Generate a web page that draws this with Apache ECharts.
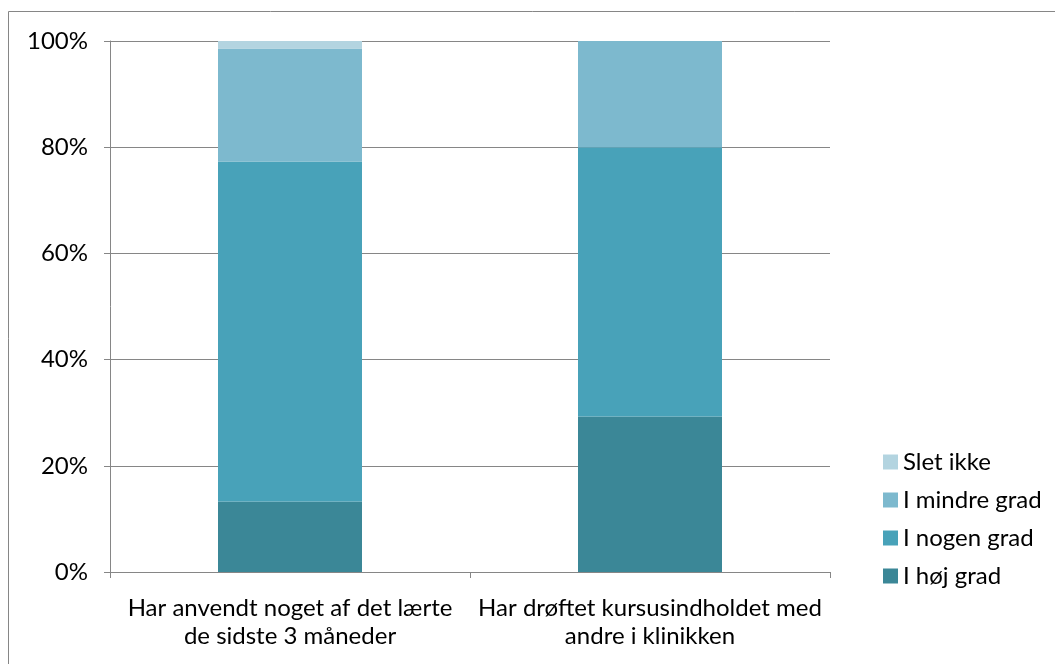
<!DOCTYPE html>
<html>
<head>
<meta charset="utf-8">
<script src="https://cdn.jsdelivr.net/npm/echarts@6/dist/echarts.min.js"></script>
<style>
	html, body { margin: 0; padding: 0; background: #fff; }
	#main { width: 1055px; height: 664px; }
</style>
</head>
<body>
<div id="main"></div>
<script>
var categories = ['Har anvendt noget af det lærte\nde sidste 3 måneder', 'Har drøftet kursusindholdet med\nandre i klinikken'];
var seriesNames = ['I høj grad', 'I nogen grad', 'I mindre grad', 'Slet ikke'];
var hojGrad    = [13.3, 29.3];
var nogenGrad  = [64.0, 50.7];
var mindreGrad = [21.3, 20.0];
var sletIkke   = [1.4, 0];
var yTicks = [0, 20, 40, 60, 80, 100];

var chartPage = {
	init : function(){
		var myChart = echarts.init(document.getElementById('main'));
		myChart.setOption(this.buildOption());
	},
	buildOption : function(){
		var font = 'Lato';
		var gray = '#868686';
		var colors = ['#3B8797', '#48A2B9', '#7DB9CE', '#B3D4E0'];
		var values = [hojGrad, nogenGrad, mindreGrad, sletIkke];
		var series = [];
		for(var i=0;i<seriesNames.length;i++){
			series.push({
				name: seriesNames[i],
				type: 'bar',
				stack: 'total',
				barWidth: '40%',
				itemStyle: { color: colors[i] },
				emphasis: { disabled: true },
				data: values[i]
			});
		};
		return {
			animation: false,
			textStyle: { fontFamily: font },
			// outer frame of the chart
			graphic: [{
				type: 'rect',
				shape: { x: 8.5, y: 11.5, width: 1060, height: 670 },
				style: { fill: 'none', stroke: gray, lineWidth: 1 },
				silent: true
			}],
			grid: { left: 110, right: 225, top: 41, bottom: 92 },
			legend: {
				orient: 'vertical',
				left: 878,
				top: 445,
				itemWidth: 15,
				itemHeight: 15,
				itemGap: 14,
				icon: 'rect',
				selectedMode: false,
				data: ['Slet ikke', 'I mindre grad', 'I nogen grad', 'I høj grad'],
				textStyle: { fontFamily: font, fontSize: 24, color: '#000' }
			},
			xAxis: {
				type: 'category',
				data: categories,
				axisLine: { lineStyle: { color: gray, width: 1 } },
				axisTick: { show: true, length: 6, lineStyle: { color: gray } },
				axisLabel: {
					margin: 22,
					fontFamily: font,
					fontSize: 24,
					lineHeight: 28,
					color: '#000',
					interval: 0
				}
			},
			yAxis: {
				type: 'value',
				min: yTicks[0],
				max: yTicks[yTicks.length-1],
				interval: 20,
				axisLine: { show: true, lineStyle: { color: gray, width: 1 } },
				axisTick: { show: true, length: 6, lineStyle: { color: gray } },
				splitLine: { lineStyle: { color: gray, width: 1 } },
				axisLabel: {
					margin: 22,
					fontFamily: font,
					fontSize: 24,
					color: '#000',
					formatter: '{value}%'
				}
			},
			series: series
		};
	}
};
chartPage.init();
</script>
</body>
</html>
